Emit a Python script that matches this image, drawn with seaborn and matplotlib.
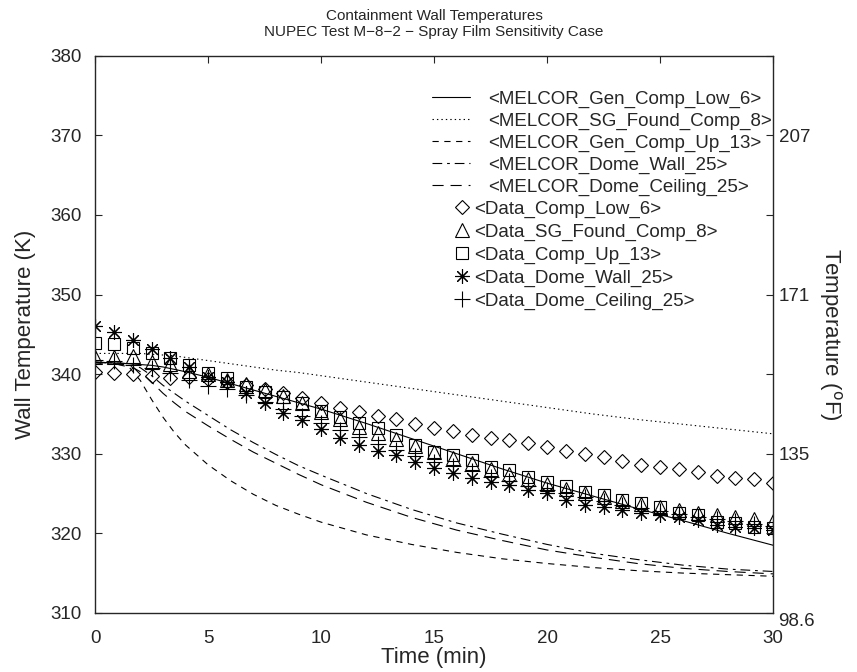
import numpy as np
import matplotlib
matplotlib.use("Agg")
import matplotlib.pyplot as plt
import seaborn as sns

# MELCOR calculations (time in min, wall temperature in K)
melcor_time = [0, 1, 1.5, 2, 2.5, 3, 3.5, 4, 5, 6, 7, 8, 9, 10, 12, 14, 16, 18, 20, 22, 24, 26, 28, 30]
melcor_low_6 = [341.5, 341.4, 341.3, 341.2, 341.1, 340.9, 340.6, 340.3, 339.6, 338.8, 338.0, 337.2,
                336.4, 335.6, 333.8, 331.9, 330.0, 328.1, 326.3, 324.7, 323.1, 321.6, 320.0, 318.5]
melcor_sg_8 = [342.6, 342.6, 342.6, 342.6, 342.5, 342.4, 342.3, 342.1, 341.7, 341.3, 340.9, 340.5,
               340.2, 339.8, 339.0, 338.2, 337.4, 336.6, 335.8, 335.0, 334.3, 333.7, 333.1, 332.5]
melcor_up_13 = [341.4, 341.2, 340.9, 339.2, 336.8, 334.6, 332.7, 331.1, 328.6, 326.6, 324.9, 323.5,
                322.4, 321.4, 319.8, 318.6, 317.6, 316.8, 316.2, 315.7, 315.3, 315.0, 314.8, 314.6]
melcor_dome_wall = [341.5, 341.4, 341.3, 340.8, 339.8, 338.6, 337.6, 336.6, 334.8, 333.0, 331.4, 329.9,
                    328.5, 327.3, 325.0, 323.0, 321.3, 319.9, 318.6, 317.5, 316.7, 316.0, 315.5, 315.2]
melcor_dome_ceiling = [341.5, 341.3, 341.1, 340.3, 339.0, 337.6, 336.4, 335.3, 333.5, 331.8, 330.2, 328.8,
                       327.4, 326.1, 323.9, 322.0, 320.4, 319.1, 317.9, 317.0, 316.2, 315.6, 315.2, 314.9]

# measured data
data_time = [0, 0.83, 1.67, 2.5, 3.33, 4.17, 5, 5.83, 6.67, 7.5, 8.33, 9.17, 10, 10.83, 11.67, 12.5,
             13.33, 14.17, 15, 15.83, 16.67, 17.5, 18.33, 19.17, 20, 20.83, 21.67, 22.5, 23.33, 24.17,
             25, 25.83, 26.67, 27.5, 28.33, 29.17, 30]
data_low_6 = [340.3, 340.1, 340.0, 339.7, 339.5, 339.6, 339.4, 339.0, 338.6, 338.1, 337.6, 337.0, 336.4,
              335.8, 335.2, 334.7, 334.3, 333.7, 333.2, 332.8, 332.4, 332.0, 331.7, 331.3, 330.9, 330.4,
              330.0, 329.6, 329.1, 328.6, 328.3, 328.1, 327.7, 327.2, 326.9, 326.8, 326.3]
data_sg_8 = [342.2, 342.2, 342.3, 341.5, 341.3, 340.4, 340.0, 339.3, 338.7, 338.0, 337.2, 336.4, 335.2,
             334.3, 333.4, 332.6, 331.8, 331.0, 330.2, 329.5, 328.8, 328.1, 327.4, 326.8, 326.2, 325.6,
             325.1, 324.6, 324.1, 323.7, 323.3, 322.9, 322.6, 322.3, 322.0, 321.8, 321.6]
data_up_13 = [343.9, 343.8, 343.3, 342.7, 342.0, 341.2, 340.2, 339.5, 338.4, 337.8, 337.1, 336.4, 335.4,
              334.6, 333.9, 333.2, 332.4, 331.1, 330.2, 329.8, 329.2, 328.3, 328.0, 327.1, 326.5, 326.0,
              325.2, 324.8, 324.2, 323.8, 323.3, 322.6, 322.3, 321.4, 321.3, 320.8, 320.7]
data_dome_wall = [346.0, 345.3, 344.3, 343.1, 342.0, 340.9, 339.6, 339.0, 337.6, 336.4, 335.1, 334.2, 333.1,
                  332.0, 331.1, 330.4, 329.8, 328.9, 328.2, 327.6, 326.9, 326.5, 326.1, 325.5, 325.1, 324.2,
                  323.6, 323.3, 322.9, 322.5, 322.3, 322.0, 321.7, 321.1, 320.8, 320.7, 320.4]
data_dome_ceiling = [341.8, 341.6, 341.2, 340.8, 340.2, 339.2, 338.5, 338.1, 337.4, 336.5, 335.6, 334.7, 333.8,
                     333.0, 332.1, 331.2, 330.5, 329.7, 329.0, 328.4, 327.8, 327.1, 326.6, 326.0, 325.5, 325.0,
                     324.5, 324.0, 323.6, 323.2, 322.8, 322.4, 322.1, 321.8, 321.5, 321.2, 320.9]

# axis ticks
k_ticks = [310, 320, 330, 340, 350, 360, 370, 380]
f_tick_labels = ['98.6', '', '135', '', '171', '', '207', '']
x_ticks = [0, 5, 10, 15, 20, 25, 30]

sns.set_style('white')
plt.rcParams['font.family'] = ['Liberation Sans', 'DejaVu Sans']
plt.rcParams['lines.scale_dashes'] = False

fig, ax = plt.subplots(figsize=(8.57, 6.72), dpi=100)
fig.subplots_adjust(left=0.111, right=0.902, top=0.917, bottom=0.088)

# MELCOR lines
melcor = [
    (melcor_low_6, '-', '<MELCOR_Gen_Comp_Low_6>'),
    (melcor_sg_8, (0, (1.0, 2.2)), '<MELCOR_SG_Found_Comp_8>'),
    (melcor_up_13, (0, (4.5, 4.0)), '<MELCOR_Gen_Comp_Up_13>'),
    (melcor_dome_wall, (0, (7.0, 3.5, 2.0, 3.5)), '<MELCOR_Dome_Wall_25>'),
    (melcor_dome_ceiling, (0, (8.0, 5.0)), '<MELCOR_Dome_Ceiling_25>'),
]
line_handles = []
for vals, ls, lab in melcor:
    sns.lineplot(x=melcor_time, y=vals, ax=ax, color='black', linewidth=0.8,
                 linestyle=ls, label=lab, legend=False)
    line_handles.append(ax.get_lines()[-1])

# test data markers
data = [
    (data_low_6, 'D', 7.5, '<Data_Comp_Low_6>'),
    (data_sg_8, '^', 9.5, '<Data_SG_Found_Comp_8>'),
    (data_up_13, 's', 9, '<Data_Comp_Up_13>'),
    (data_dome_wall, (8, 2, 0), 10.5, '<Data_Dome_Wall_25>'),
    (data_dome_ceiling, '+', 11, '<Data_Dome_Ceiling_25>'),
]
marker_handles = []
for vals, mk, ms, lab in data:
    sns.lineplot(x=data_time, y=vals, ax=ax, color='black', linestyle='', marker=mk,
                 markersize=ms, markerfacecolor='none', markeredgecolor='black',
                 markeredgewidth=0.8, label=lab, legend=False)
    marker_handles.append(ax.get_lines()[-1])

ax.set_xlim(0, 30)
ax.set_ylim(310, 380)
ax.set_xticks(x_ticks)
ax.set_yticks(k_ticks)
ax.tick_params(axis='both', direction='in', length=5, width=0.8, labelsize=13.5, top=True)
ax.tick_params(axis='y', pad=10)
ax.tick_params(axis='x', pad=12)
for s in ax.spines.values():
    s.set_linewidth(0.9)
    s.set_color('black')

ax.set_xlabel('Time (min)', fontsize=16, labelpad=0)
ax.set_ylabel('Wall Temperature (K)', fontsize=16, labelpad=10)
ax.set_title('Containment Wall Temperatures\nNUPEC Test M\u22128\u22122 \u2212 Spray Film Sensitivity Case',
             fontsize=11, pad=14, linespacing=1.2)

# right axis in Fahrenheit
ax2 = ax.twinx()
ax2.set_ylim(310, 380)
ax2.set_yticks(k_ticks)
ax2.set_yticklabels(f_tick_labels)
ax2.tick_params(axis='y', direction='in', length=5, width=0.8, labelsize=13.5, pad=4)
ax2.get_yticklabels()[0].set_va('top')
ax2.set_ylabel('Temperature ($^{\\rm o}$F)', fontsize=16, rotation=270, va='bottom', labelpad=1)

# legends
leg1 = ax.legend(line_handles, [h.get_label() for h in line_handles], loc='upper left',
                 bbox_to_anchor=(0.497, 0.937), frameon=False, fontsize=13.5, borderpad=0,
                 borderaxespad=0, handlelength=2.0, handletextpad=1.0, labelspacing=0.25)
ax.add_artist(leg1)
ax.legend(marker_handles, [h.get_label() for h in marker_handles], loc='upper left',
          bbox_to_anchor=(0.528, 0.74), frameon=False, fontsize=13.5, borderpad=0,
          borderaxespad=0, handlelength=1.0, handletextpad=0.1, labelspacing=0.3)

fig.savefig('out.png', dpi=100)
